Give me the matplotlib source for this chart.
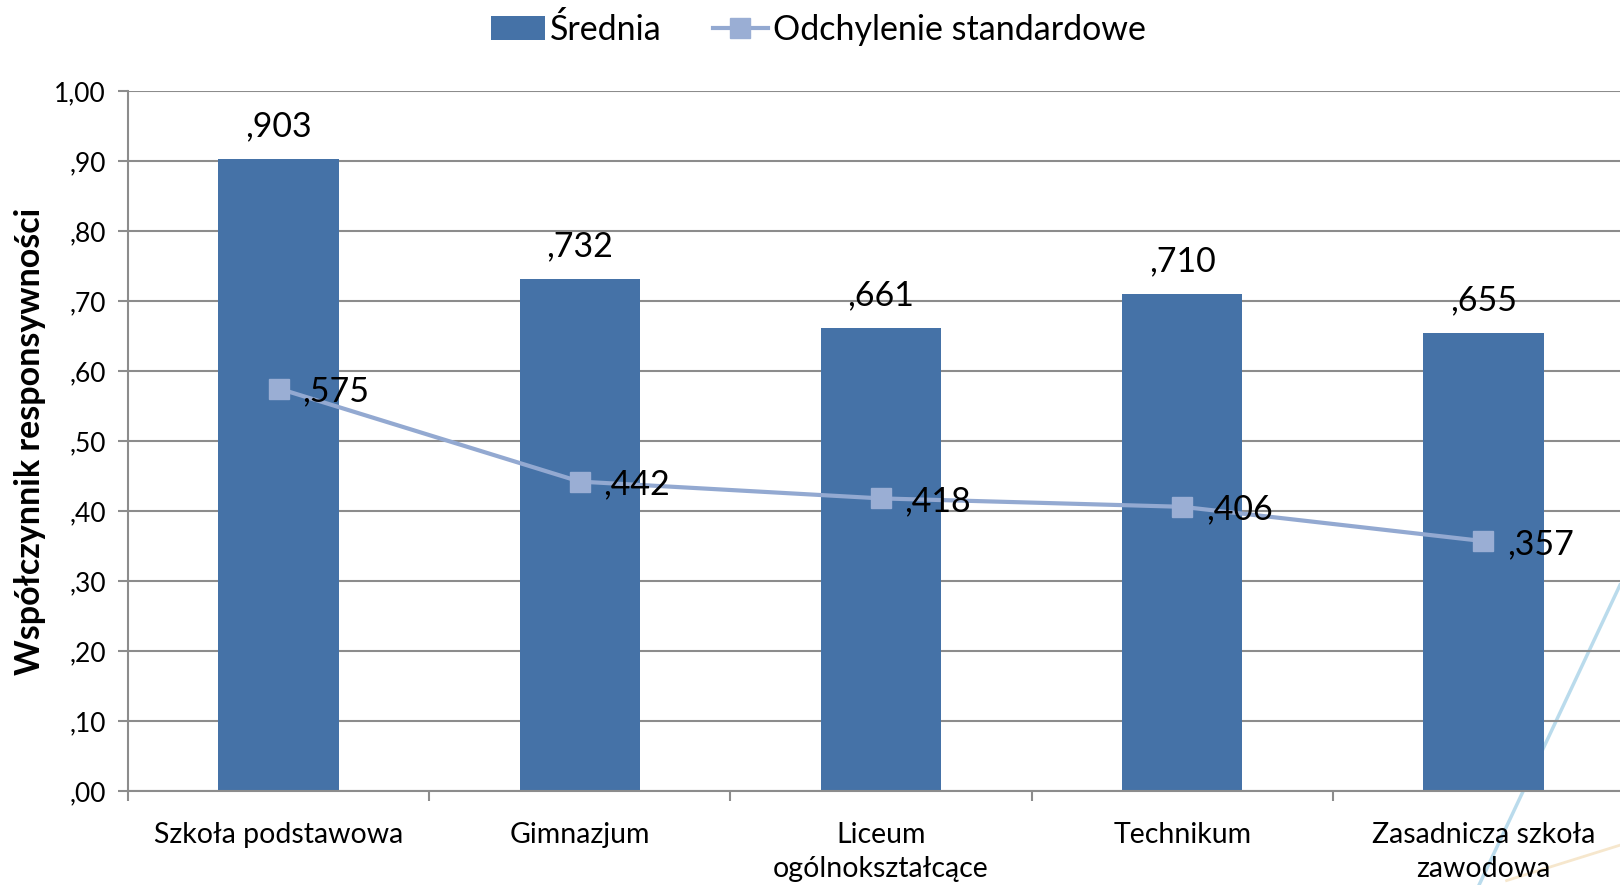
import matplotlib.pyplot as plt
from matplotlib.lines import Line2D
from matplotlib.ticker import FuncFormatter, FixedLocator
import numpy as np

plt.rcParams["font.family"] = ["Lato", "DejaVu Sans"]

schools = [
    "Szkoła podstawowa",
    "Gimnazjum",
    "Liceum\nogólnokształcące",
    "Technikum",
    "Zasadnicza szkoła\nzawodowa",
]
means = [0.903, 0.732, 0.661, 0.710, 0.655]
std_devs = [0.575, 0.442, 0.418, 0.406, 0.357]

bar_color = "#4572A7"
line_color = "#93A9D1"
grid_color = "#8C8C8C"


def pl_fmt(v, dec):
    s = f"{v:.{dec}f}".replace(".", ",")
    if s.startswith("0,"):
        s = s[1:]
    return s


fig = plt.figure(figsize=(16.2, 8.85), dpi=100)
ax = fig.add_axes([128 / 1620, 1 - 791 / 885, 1506 / 1620, 700 / 885])
ax.set_facecolor("none")

# faint background decoration at bottom right
fig.add_artist(Line2D([1.0, 0.913], [1 - 585 / 885, 0.0], transform=fig.transFigure,
                      color="#A9D3E8", lw=2.5, alpha=0.8, zorder=-5))
fig.add_artist(Line2D([0.93, 1.0], [0.005, 0.045], transform=fig.transFigure,
                      color="#F3DDB8", lw=2, alpha=0.7, zorder=-5))

x = np.arange(len(schools))
bars = ax.bar(x, means, width=0.4, color=bar_color, zorder=2)
line, = ax.plot(x, std_devs, color=line_color, lw=3, marker="s", markersize=14,
                markerfacecolor="#9AAED4", markeredgecolor="#9AAED4", zorder=3)

for xi, m in zip(x, means):
    ax.annotate(pl_fmt(m, 3), (xi, m), xytext=(0, 12), textcoords="offset points",
                ha="center", va="bottom", fontsize=24.5, color="black")
for xi, s in zip(x, std_devs):
    ax.annotate(pl_fmt(s, 3), (xi, s), xytext=(17, -2), textcoords="offset points",
                ha="left", va="center", fontsize=24.5, color="black", zorder=4)

ax.set_xlim(-0.5, len(schools) - 0.5)
ax.set_ylim(0, 1.0)
ax.yaxis.set_major_locator(FixedLocator(np.arange(0, 1.01, 0.1)))
ax.yaxis.set_major_formatter(FuncFormatter(lambda v, p: pl_fmt(v, 2)))
ax.grid(axis="y", color=grid_color, lw=1.5, zorder=1)
ax.set_axisbelow(True)

ax.set_xticks(x)
ax.set_xticklabels(schools, fontsize=20.5, linespacing=1.38)
ax.xaxis.set_minor_locator(FixedLocator(np.arange(-0.5, len(schools), 1.0)))
ax.tick_params(axis="x", which="major", length=0, pad=22)
ax.tick_params(axis="x", which="minor", length=7, width=1.5, color=grid_color)
ax.tick_params(axis="y", length=7, width=1.5, color=grid_color, labelsize=19, pad=9)

for side in ["top", "right"]:
    ax.spines[side].set_visible(False)
for side in ["left", "bottom"]:
    ax.spines[side].set_color(grid_color)
    ax.spines[side].set_linewidth(1.5)

ax.set_ylabel("Współczynnik responsywności", fontsize=24.5, fontweight="bold", labelpad=6)

fig.legend([bars, line], ["Średnia", "Odchylenie standardowe"],
           loc="center", bbox_to_anchor=(0.505, 0.967), ncol=2, frameon=False,
           fontsize=24.5, handlelength=1.6, handletextpad=0.15, columnspacing=1.5)

fig.savefig("out.png", dpi=100)
